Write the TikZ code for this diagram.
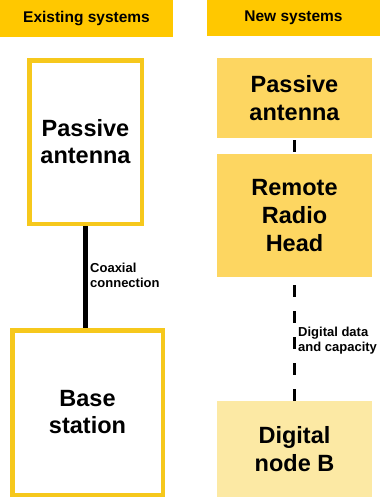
\documentclass[tikz,border=0pt]{standalone}
\usepackage{fontspec}
\setmainfont{Liberation Sans}
\usepackage{xcolor}
\usetikzlibrary{positioning}

\definecolor{hdrgold}{HTML}{FFC800}
\definecolor{rimgold}{HTML}{F6C81C}
\definecolor{newfill}{HTML}{FDD661}
\definecolor{digfill}{HTML}{FCE9A4}

\begin{document}
\begin{tikzpicture}[x=1pt, y=-1pt,
        header/.style={fill=hdrgold, inner sep=0pt, font=\bfseries\fontsize{15.5}{18}\selectfont},
        oldbox/.style={draw=rimgold, line width=4.5pt, inner sep=0pt, align=center, font=\bfseries\fontsize{23.5}{27}\selectfont},
        newbox/.style={inner sep=0pt, minimum width=155pt, align=center, font=\bfseries\fontsize{23.5}{28}\selectfont},
        lbl/.style={inner sep=0pt, anchor=west, align=left, font=\bfseries\fontsize{13}{15}\selectfont}]
            \useasboundingbox (0,0) rectangle (380,501);
            % column headings
            \node[header, minimum width=173pt, minimum height=37pt] (hold) at (86.5,18.5) {Existing systems};
            \node[header, minimum width=173pt, minimum height=36pt] (hnew) at (293.5,18) {New systems};
            % existing systems
            \node[oldbox, minimum width=112.5pt, minimum height=163.5pt] (antold) at (85.5,142) {Passive\\antenna};
            \node[oldbox, minimum width=150.5pt, minimum height=164.5pt] (base) at (87.5,412.5) {Base\\station};
            \draw[line width=4.5pt] (antold.south) -- (antold.south |- base.north);
            \node[lbl] (coax) at (90,275) {Coaxial\\connection};
            % new systems
            \node[newbox, fill=newfill, minimum height=80pt] (antnew) at (294.5,98) {Passive\\antenna};
            \node[newbox, fill=newfill, minimum height=123pt] (rrh) at (294.5,215.5) {Remote\\Radio\\Head};
            \node[newbox, fill=digfill, minimum height=96pt] (nodeb) at (294.5,449) {Digital\\node B};
            \draw[line width=3pt, shorten <=2pt, shorten >=2pt] (antnew.south) -- (rrh.north);
            \draw[line width=3pt, dash pattern=on 11.5pt off 14.5pt, shorten <=8pt] (rrh.south) -- (nodeb.north);
            \node[lbl] (digdata) at (298,341) {Digital data\\and capacity};
        \end{tikzpicture}
\end{document}
